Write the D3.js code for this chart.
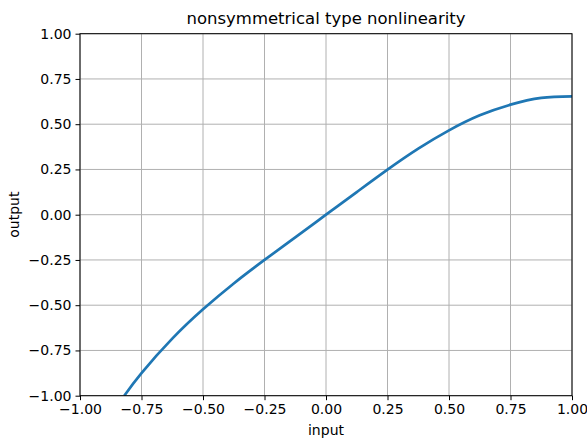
<!DOCTYPE html>
<html>
<head>
<meta charset="utf-8">
<script src="https://cdn.jsdelivr.net/npm/d3@7"></script>
<style>
  body { margin: 0; background: #fff; }
  svg text { font-family: "DejaVu Sans", sans-serif; fill: #000; }
</style>
</head>
<body>
<div id="chart"></div>
<script>
// values
var inputValues = [-0.82, -0.75, -0.625, -0.5, -0.375, -0.25, -0.125, 0, 0.125, 0.25, 0.375, 0.5, 0.625, 0.75, 0.875, 1];
var outputValues = [-1.0, -0.875, -0.685, -0.523, -0.38, -0.25, -0.125, 0, 0.125, 0.249, 0.365, 0.466, 0.549, 0.608, 0.645, 0.654];
var xTicks = [-1, -0.75, -0.5, -0.25, 0, 0.25, 0.5, 0.75, 1];
var yTicks = [-1, -0.75, -0.5, -0.25, 0, 0.25, 0.5, 0.75, 1];

var svgWidth = 587;
var svgHeight = 439;
var margin = { top: 33.7, right: 15, bottom: 43.3, left: 80 };
var width = svgWidth - margin.left - margin.right;
var height = svgHeight - margin.top - margin.bottom;

var svg = d3.select("#chart")
    .append("svg")
    .attr("width", svgWidth)
    .attr("height", svgHeight);

var chartGroup = svg.append("g")
    .attr("transform", `translate(${margin.left}, ${margin.top})`);

var xScale = d3.scaleLinear().domain([-1, 1]).range([0, width]);
var yScale = d3.scaleLinear().domain([-1, 1]).range([height, 0]);

var fmt = function(d) { return d3.format(".2f")(d).replace("-", "\u2212"); };

// grid
chartGroup.append("g")
    .selectAll("line")
    .data(xTicks)
    .enter()
    .append("line")
    .attr("x1", d => xScale(d)).attr("x2", d => xScale(d))
    .attr("y1", 0).attr("y2", height)
    .attr("stroke", "#b0b0b0").attr("stroke-width", 1);

chartGroup.append("g")
    .selectAll("line")
    .data(yTicks)
    .enter()
    .append("line")
    .attr("y1", d => yScale(d)).attr("y2", d => yScale(d))
    .attr("x1", 0).attr("x2", width)
    .attr("stroke", "#b0b0b0").attr("stroke-width", 1);

// curve
svg.append("defs").append("clipPath")
    .attr("id", "clip")
    .append("rect")
    .attr("width", width).attr("height", height);

var points = inputValues.map((x, i) => [x, outputValues[i]]);
var line = d3.line()
    .x(d => xScale(d[0]))
    .y(d => yScale(d[1]))
    .curve(d3.curveNatural);

chartGroup.append("path")
    .datum(points)
    .attr("clip-path", "url(#clip)")
    .attr("d", line)
    .attr("fill", "none")
    .attr("stroke", "#1f77b4")
    .attr("stroke-width", 2.7);

// axes
var xAxis = d3.axisBottom(xScale).tickValues(xTicks).tickFormat(fmt).tickSize(4.5).tickPadding(4);
var yAxis = d3.axisLeft(yScale).tickValues(yTicks).tickFormat(fmt).tickSize(4.5).tickPadding(4);

var gx = chartGroup.append("g")
    .attr("transform", `translate(0, ${height})`)
    .call(xAxis);
var gy = chartGroup.append("g")
    .call(yAxis);

[gx, gy].forEach(function(g) {
    g.select(".domain").remove();
    g.selectAll("line").attr("stroke", "#000").attr("stroke-width", 1);
    g.selectAll("text").attr("font-size", "14px").attr("font-family", "DejaVu Sans").attr("fill", "#000");
});

// frame
chartGroup.append("rect")
    .attr("width", width).attr("height", height)
    .attr("fill", "none").attr("stroke", "#000").attr("stroke-width", 1);

// labels
svg.append("text")
    .attr("x", margin.left + width / 2)
    .attr("y", 24)
    .attr("text-anchor", "middle")
    .attr("font-size", "16.5px")
    .text("nonsymmetrical type nonlinearity");

svg.append("text")
    .attr("x", margin.left + width / 2)
    .attr("y", 435)
    .attr("text-anchor", "middle")
    .attr("font-size", "14px")
    .text("input");

svg.append("text")
    .attr("transform", `translate(19, ${margin.top + height / 2}) rotate(-90)`)
    .attr("text-anchor", "middle")
    .attr("font-size", "14px")
    .text("output");
</script>
</body>
</html>
